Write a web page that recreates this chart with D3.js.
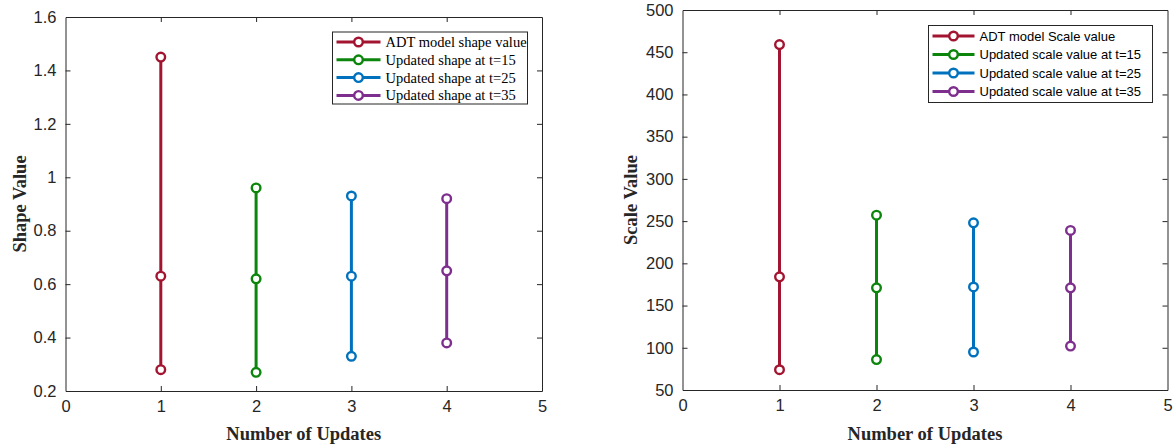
<!DOCTYPE html>
<html>
<head>
<meta charset="utf-8">
<script src="https://cdn.jsdelivr.net/npm/d3@7"></script>
<style>
  body { margin: 0; background: #fff; }
  svg { display: block; }
</style>
</head>
<body>
<svg width="1175" height="448"></svg>
<script>
//-- data --//
const updates = [1, 2, 3, 4];
const seriesColors = ["#A2142F", "#0C850C", "#0072BD", "#7E2F8E"];
const shapeLabels = ["ADT model shape value", "Updated shape at t=15", "Updated shape at t=25", "Updated shape at t=35"];
const scaleLabels = ["ADT model Scale value", "Updated scale value at t=15", "Updated scale value at t=25", "Updated scale value at t=35"];
// each series: [high, mid, low] at its update number
const shapeValues = [[1.45, 0.63, 0.28], [0.96, 0.62, 0.27], [0.93, 0.63, 0.33], [0.92, 0.65, 0.38]];
const scaleValues = [[459, 184, 74], [257, 171, 86], [248, 172, 95], [239, 171, 102]];
const xTicks = [0, 1, 2, 3, 4, 5];
const shapeTicks = [0.2, 0.4, 0.6, 0.8, 1, 1.2, 1.4, 1.6];
const scaleTicks = [50, 100, 150, 200, 250, 300, 350, 400, 450, 500];

const svg = d3.select("svg");
const axisColor = "#262626";

function panel(opt) {
  const x = d3.scaleLinear().domain([0, 5]).range([opt.left, opt.right]);
  const y = d3.scaleLinear().domain(opt.ydom).range([opt.bottom, opt.top]);
  const g = svg.append("g");

  //-- axes, matlab style: ticks inside, box on --//
  const ax = (sel, gen, tr) => sel.append("g").attr("transform", tr).call(gen)
    .call(a => a.select(".domain").attr("stroke", axisColor))
    .call(a => a.selectAll(".tick line").attr("stroke", axisColor))
    .call(a => a.selectAll("text").attr("fill", axisColor)
      .style("font", "16.5px 'Liberation Sans', Arial, sans-serif"));

  ax(g, d3.axisBottom(x).tickValues(xTicks).tickFormat(d3.format("d")).tickSizeInner(-5).tickSizeOuter(0).tickPadding(9),
    `translate(0,${opt.bottom})`);
  ax(g, d3.axisTop(x).tickValues(xTicks).tickFormat("").tickSizeInner(-5).tickSizeOuter(0),
    `translate(0,${opt.top})`);
  ax(g, d3.axisLeft(y).tickValues(opt.yticks).tickFormat(d => String(d)).tickSizeInner(-5).tickSizeOuter(0).tickPadding(9),
    `translate(${opt.left},0)`);
  ax(g, d3.axisRight(y).tickValues(opt.yticks).tickFormat("").tickSizeInner(-5).tickSizeOuter(0),
    `translate(${opt.right},0)`);
  g.selectAll(".tick").filter(d => d === x.domain()[0] || d === x.domain()[1] || d === opt.ydom[0] || d === opt.ydom[1])
    .select("line").remove();

  //-- labels --//
  g.append("text")
    .attr("x", (opt.left + opt.right) / 2).attr("y", 440)
    .attr("text-anchor", "middle").attr("fill", axisColor)
    .style("font", "bold 18.5px 'Liberation Serif', 'Times New Roman', serif")
    .text("Number of Updates");
  g.append("text")
    .attr("transform", `translate(${opt.left - opt.ylabOff},${(opt.top + opt.bottom) / 2}) rotate(-90)`)
    .attr("text-anchor", "middle").attr("fill", axisColor)
    .style("font", "bold 18.5px 'Liberation Serif', 'Times New Roman', serif")
    .text(opt.ylabel);

  //-- series --//
  const s = g.append("g").selectAll("g").data(opt.values).join("g");
  s.append("line")
    .attr("x1", (d, i) => x(updates[i])).attr("x2", (d, i) => x(updates[i]))
    .attr("y1", d => y(d3.max(d))).attr("y2", d => y(d3.min(d)))
    .attr("stroke", (d, i) => seriesColors[i]).attr("stroke-width", 3);
  s.selectAll("circle").data((d, i) => d.map(v => ({v, i}))).join("circle")
    .attr("cx", d => x(updates[d.i])).attr("cy", d => y(d.v)).attr("r", 4.3)
    .attr("fill", "#fff").attr("stroke", d => seriesColors[d.i]).attr("stroke-width", 2.4);

  //-- legend --//
  const L = opt.legend;
  const lg = g.append("g");
  lg.append("rect").attr("x", L.x).attr("y", L.y).attr("width", L.w).attr("height", L.h)
    .attr("fill", "#fff").attr("stroke", axisColor).attr("stroke-width", 1);
  const row = lg.selectAll("g.row").data(opt.labels).join("g").attr("class", "row")
    .attr("transform", (d, i) => `translate(${L.x},${L.y + L.first + i * L.step})`);
  row.append("line").attr("x1", 4).attr("x2", L.sample).attr("y1", 0).attr("y2", 0)
    .attr("stroke", (d, i) => seriesColors[i]).attr("stroke-width", 3);
  row.append("circle").attr("cx", (4 + L.sample) / 2).attr("cy", 0).attr("r", 4.3)
    .attr("fill", "#fff").attr("stroke", (d, i) => seriesColors[i]).attr("stroke-width", 2.4);
  row.append("text").attr("x", L.sample + 5).attr("dy", "0.35em").attr("fill", "#000")
    .style("font", L.font).text(d => d);
}

panel({
  left: 65.5, right: 542, top: 17, bottom: 391,
  ydom: [0.2, 1.6], yticks: shapeTicks, values: shapeValues,
  labels: shapeLabels, ylabel: "Shape Value", ylabOff: 40,
  legend: {x: 332.5, y: 32, w: 195, h: 72, first: 10, step: 17.8, sample: 48,
    font: "14.5px 'Liberation Serif', 'Times New Roman', serif"}
});
panel({
  left: 682.5, right: 1167.5, top: 10, bottom: 390,
  ydom: [50, 500], yticks: scaleTicks, values: scaleValues,
  labels: scaleLabels, ylabel: "Scale Value", ylabOff: 45.5,
  legend: {x: 928.5, y: 25.5, w: 224, h: 77, first: 10.5, step: 18.5, sample: 46,
    font: "13px 'Liberation Sans', Arial, sans-serif"}
});
</script>
</body>
</html>
